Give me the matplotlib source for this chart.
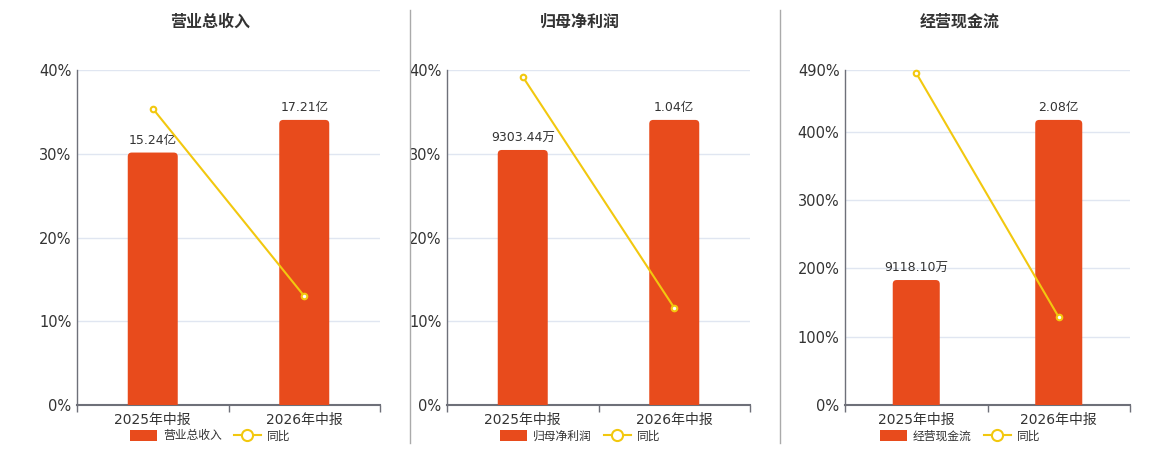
import matplotlib
matplotlib.use("Agg")
import matplotlib.pyplot as plt
from matplotlib.patches import FancyBboxPatch, Rectangle
from matplotlib.lines import Line2D

plt.rcParams['font.family'] = ['DejaVu Sans', 'Noto Sans CJK SC']

categories = ["2025年中报", "2026年中报"]
titles = ["营业总收入", "归母净利润", "经营现金流"]
bar_values = [[15.24, 17.21], [0.930344, 1.04], [0.91181, 2.08]]
bar_labels = [["15.24亿", "17.21亿"], ["9303.44万", "1.04亿"], ["9118.10万", "2.08亿"]]
yoy_values = [[35.4, 13.0], [39.2, 11.6], [485.5, 128.5]]
y_ticks = [[0, 10, 20, 30, 40], [0, 10, 20, 30, 40], [0, 100, 200, 300, 400, 490]]
y_max = [40, 40, 490]
legend_line = "同比"

W, H = 1160, 450
fig = plt.figure(figsize=(W / 100, H / 100), dpi=100)

BAR_C = "#E84B1C"
LINE_C = "#F2C80F"
TXT = "#333333"
AX_C = "#6E7079"
GRID_C = "#E0E6F1"

panels = [(77, 380, 210), (447, 750, 580), (845, 1130, 960)]
top_px, bot_px = 70, 405

for i, (l, r, c) in enumerate(panels):
    rect = [l / W, 1 - bot_px / H, (r - l) / W, (bot_px - top_px) / H]
    ax = fig.add_axes(rect)
    ax.set_xlim(-0.5, 1.5)
    ax.set_ylim(0, y_max[i])
    ax.set_yticks(y_ticks[i])
    ax.set_yticklabels([f"{t}%" for t in y_ticks[i]])
    ax.set_xticks([0, 1])
    ax.set_xticklabels(categories)
    ax.xaxis.set_minor_locator(matplotlib.ticker.FixedLocator([-0.5, 0.5, 1.5]))
    ax.tick_params(axis='x', which='major', length=0, labelsize=10, colors=TXT, pad=6)
    ax.tick_params(axis='x', which='minor', length=5, color=AX_C, width=1)
    ax.tick_params(axis='y', length=0, labelsize=10.5, colors=TXT, pad=4)
    for lab in ax.get_yticklabels() + ax.get_xticklabels():
        lab.set_color(TXT)
    ax.grid(axis='y', color=GRID_C, lw=1)
    ax.set_axisbelow(True)
    for s in ["top", "right"]:
        ax.spines[s].set_visible(False)
    ax.spines["left"].set_color(AX_C)
    ax.spines["bottom"].set_color(AX_C)
    ax.spines["bottom"].set_linewidth(1.5)
    ax.spines["left"].set_linewidth(1)

    # bars on hidden axis
    axb = ax.twinx()
    axb.set_ylim(0, max(bar_values[i]) / 0.851)
    axb.axis("off")
    bars = axb.bar([0, 1], bar_values[i], width=0.33, color=BAR_C)
    # rounded tops
    ppx_x = 2.0 / (r - l)
    ppx_y = axb.get_ylim()[1] / (bot_px - top_px)
    rad = 4 * ppx_x
    for b in bars:
        x0, w, h = b.get_x(), b.get_width(), b.get_height()
        b.set_visible(False)
        fp = FancyBboxPatch((x0, -rad * ppx_y / ppx_x), w, h + rad * ppx_y / ppx_x,
                            boxstyle=f"round,pad=0,rounding_size={rad}",
                            mutation_aspect=ppx_y / ppx_x,
                            facecolor=BAR_C, edgecolor="none", clip_on=True)
        axb.add_patch(fp)
    axb.bar_label(bars, labels=bar_labels[i], padding=4, fontsize=9, color=TXT)

    # line on top
    axl = ax.twinx()
    axl.set_ylim(0, y_max[i])
    axl.axis("off")
    axl.plot([0, 1], yoy_values[i], color=LINE_C, lw=1.5, marker="o", ms=4,
             mfc="white", mec=LINE_C, mew=1.5, clip_on=False)

    # title
    fig.text(c / W, 1 - 22 / H, titles[i], ha="center", va="center",
             fontsize=11.5, fontweight="bold", color=TXT)

    # legend
    handles = [FancyBboxPatch((0, 0), 1, 1, boxstyle="round,pad=0,rounding_size=0.3",
                              facecolor=BAR_C, edgecolor="none"),
               Line2D([], [], color=LINE_C, lw=1.5, marker="o", ms=8, mfc="white",
                      mec=LINE_C, mew=1.5)]
    fig.legend(handles, [titles[i], legend_line], loc="center",
               bbox_to_anchor=(c / W, 1 - 436 / H), ncol=2, frameon=False,
               fontsize=8.5, labelcolor=TXT, handlelength=2.3, handleheight=1.1,
               columnspacing=1.0, handletextpad=0.5, borderpad=0)

for xs in [410, 780]:
    fig.add_artist(Line2D([xs / W, xs / W], [1 - 10 / H, 1 - 443 / H],
                          transform=fig.transFigure, color="#AAAAAA", lw=1))

fig.savefig("out.png", dpi=100, facecolor="white")
